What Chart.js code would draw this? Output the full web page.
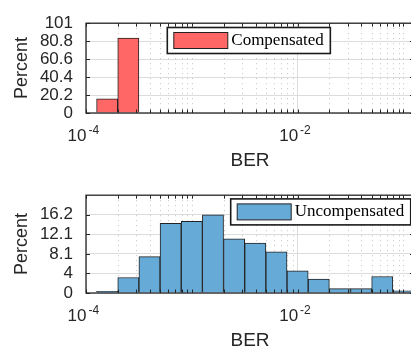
<!DOCTYPE html>
<html>
<head>
<meta charset="utf-8">
<script src="https://cdn.jsdelivr.net/npm/chart.js"></script>
<style>
  html, body { margin: 0; padding: 0; background: #fff; overflow: hidden; width: 411px; height: 351px; }
  canvas { position: absolute; left: 0; }
  #compChart { top: 0; }
  #uncompChart { top: 172px; }
</style>
</head>
<body>
<canvas id="compChart" width="414" height="172"></canvas>
<canvas id="uncompChart" width="414" height="179"></canvas>
<script>
// BER axis: decade exponents that get a label
const berTickExps = [-4, -2];

// Compensated histogram (bin edges as log10(BER), percent per bin)
const compEdgeExps = [-3.9, -3.7, -3.5];
const compPercent = [15.8, 84.2];
const compYTicks = [0, 20.2, 40.4, 60.6, 80.8, 101];
const compYLabels = ["0", "20.2", "40.4", "60.6", "80.8", "101"];
const compYMax = 101;

// Uncompensated histogram
const uncompEdgeExps = [-3.9, -3.7, -3.5, -3.3, -3.1, -2.9, -2.7, -2.5, -2.3, -2.1, -1.9, -1.7, -1.5, -1.3, -1.1, -0.9];
const uncompPercent = [0.33, 3.2, 7.5, 14.4, 14.8, 16.16, 11.2, 10.3, 8.5, 4.6, 2.9, 0.9, 0.9, 3.4, 0.45];
const uncompYTicks = [0, 4.04, 8.08, 12.12, 16.16];
const uncompYLabels = ["0", "4", "8.1", "12.1", "16.2"];
const uncompYMax = 20.2;

const SANS = "'Liberation Sans', Arial, sans-serif";
const SERIF = "'Liberation Serif', 'Times New Roman', serif";
const AX = "#262626";

// positions of the log minor ticks (2..9 x 10^n, plus unlabeled decades)
function minorPixels(x) {
  const out = [];
  for (let e = -4; e <= 0; e++) {
    for (let k = 1; k <= 9; k++) {
      if (k === 1 && berTickExps.includes(e)) continue;
      const v = k * Math.pow(10, e);
      if (v > x.min && v < x.max) out.push(x.getPixelForValue(v));
    }
  }
  return out;
}

// MATLAB-like box, inward ticks, superscript tick labels and legend
const matlabAxes = {
  id: "matlabAxes",
  beforeDatasetsDraw(chart) {
    const { ctx, chartArea: a, scales: { x } } = chart;
    ctx.save();
    ctx.strokeStyle = "rgba(38,38,38,0.28)";
    ctx.lineWidth = 1;
    ctx.setLineDash([1, 4]);
    minorPixels(x).forEach(function (px) {
      const p = Math.round(px) + 0.5;
      ctx.beginPath();
      ctx.moveTo(p, a.top);
      ctx.lineTo(p, a.bottom);
      ctx.stroke();
    });
    ctx.restore();
  },
  afterDatasetsDraw(chart, args, opts) {
    const { ctx, chartArea: a, scales: { x, y } } = chart;
    const tl = 3.5;
    ctx.save();
    ctx.strokeStyle = AX;
    ctx.lineWidth = 1;

    // x ticks, top and bottom
    const majors = berTickExps.map((e) => x.getPixelForValue(Math.pow(10, e)));
    majors.concat(minorPixels(x)).forEach(function (px) {
      const p = Math.round(px) + 0.5;
      ctx.beginPath();
      ctx.moveTo(p, a.bottom);
      ctx.lineTo(p, a.bottom - tl);
      ctx.moveTo(p, a.top);
      ctx.lineTo(p, a.top + tl);
      ctx.stroke();
    });
    // y ticks, left and right
    y.ticks.forEach(function (t) {
      const p = Math.round(y.getPixelForValue(t.value)) + 0.5;
      ctx.beginPath();
      ctx.moveTo(a.left, p);
      ctx.lineTo(a.left + tl + 0.5, p);
      ctx.moveTo(a.right, p);
      ctx.lineTo(a.right - tl - 0.5, p);
      ctx.stroke();
    });
    // box
    ctx.lineWidth = 1.3;
    ctx.strokeRect(a.left, a.top, a.right - a.left, a.bottom - a.top);

    // x tick labels 10^n
    ctx.fillStyle = AX;
    berTickExps.forEach(function (e, i) {
      const px = majors[i];
      ctx.font = "17px " + SANS;
      ctx.textAlign = "right";
      ctx.textBaseline = "alphabetic";
      ctx.fillText("10", px + 0.5, a.bottom + 28);
      ctx.font = "12px " + SANS;
      ctx.textAlign = "left";
      ctx.fillText(String(e), px + 2.5, a.bottom + 20.5);
    });

    // legend
    const ds = chart.data.datasets[0];
    ctx.font = "17px " + SERIF;
    const tw = ctx.measureText(ds.label).width;
    const bx = a.left + opts.left, by = a.top + opts.top;
    const bw = 6.5 + 54 + 3.5 + tw + 6.5, bh = 26;
    ctx.fillStyle = "#fff";
    ctx.fillRect(bx, by, bw, bh);
    ctx.lineWidth = 1.6;
    ctx.strokeStyle = "#1a1a1a";
    ctx.strokeRect(bx, by, bw, bh);
    ctx.fillStyle = ds.backgroundColor;
    ctx.fillRect(bx + 6.5, by + 5, 54, 16);
    ctx.lineWidth = 1;
    ctx.strokeStyle = "#222";
    ctx.strokeRect(bx + 6.5, by + 5, 54, 16);
    ctx.fillStyle = "#000";
    ctx.textAlign = "left";
    ctx.textBaseline = "alphabetic";
    ctx.fillText(ds.label, bx + 6.5 + 54 + 3.5, by + 17.5);
    ctx.restore();
  },
};

function createHistogram(canvasId, label, edgeExps, percent, color, yTicks, yLabels, yMax, pad, legendPos) {
  const ctx = document.getElementById(canvasId).getContext("2d");
  const canvasH = ctx.canvas.height;

  new Chart(ctx, {
    type: "bar",
    data: {
      datasets: [
        {
          label: label,
          // bar centred on the geometric middle of each bin
          data: percent.map((v, i) => ({ x: Math.pow(10, (edgeExps[i] + edgeExps[i + 1]) / 2), y: v })),
          backgroundColor: color,
          borderColor: "#222",
          borderWidth: 1,
          barPercentage: 1,
          categoryPercentage: 1,
        },
      ],
    },
    options: {
      responsive: false,
      animation: false,
      devicePixelRatio: 1,
      layout: { padding: { top: pad.top, left: 0, right: 0, bottom: 0 } },
      plugins: {
        legend: { display: false },
        tooltip: { enabled: false },
        matlabAxes: legendPos,
      },
      scales: {
        x: {
          type: "logarithmic",
          min: 1e-4,
          max: Math.pow(10, -0.9),
          bounds: "data",
          offset: false,
          grid: { offset: false, color: "#dcdcdc", drawTicks: false },
          border: { display: false },
          ticks: { display: false },
          afterBuildTicks: (scale) => {
            scale.ticks = berTickExps.map((e) => ({ value: Math.pow(10, e), major: true }));
          },
          afterFit: (scale) => {
            scale.height = canvasH - pad.bottomArea;
          },
          title: {
            display: true,
            text: "BER",
            color: AX,
            font: { family: SANS, size: 19, lineHeight: 1 },
            padding: { top: 0, bottom: pad.title },
          },
        },
        y: {
          min: 0,
          max: yMax,
          grid: { color: "#dcdcdc", drawTicks: false },
          border: { display: false },
          afterBuildTicks: (scale) => {
            scale.ticks = yTicks.map((v) => ({ value: v }));
          },
          afterFit: (scale) => {
            scale.width = 86;
          },
          ticks: {
            autoSkip: false,
            padding: 13,
            color: AX,
            font: { family: SANS, size: 17 },
            callback: (value, index) => yLabels[index],
          },
          title: {
            display: true,
            text: "Percent",
            color: AX,
            font: { family: SANS, size: 18, lineHeight: 1 },
            padding: { top: 13.5, bottom: 0 },
          },
        },
      },
    },
    plugins: [matlabAxes],
  });
}

createHistogram("compChart", "Compensated", compEdgeExps, compPercent, "rgb(255,102,102)",
  compYTicks, compYLabels, compYMax, { top: 9, bottomArea: 113, title: 2.2 }, { left: 81.3, top: 4.3 });
createHistogram("uncompChart", "Uncompensated", uncompEdgeExps, uncompPercent, "rgb(102,170,215)",
  uncompYTicks, uncompYLabels, uncompYMax, { top: 18, bottomArea: 121, title: 0.8 }, { left: 144.7, top: 3.7 });
</script>
</body>
</html>
